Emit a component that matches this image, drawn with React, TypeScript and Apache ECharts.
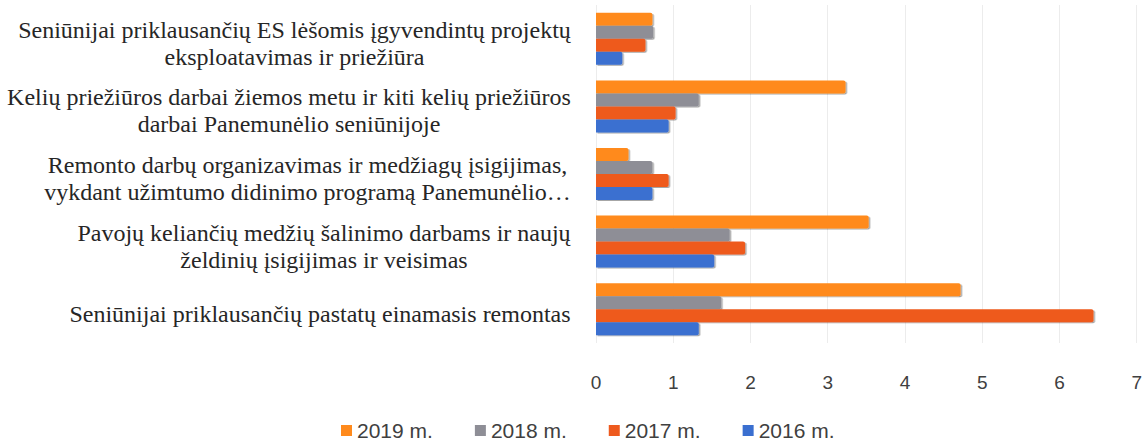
import React, { useEffect, useRef } from "react";
import * as echarts from "echarts";

const categoryLines: string[][] = [
  ["Seniūnijai priklausančių ES lėšomis įgyvendintų projektų", "eksploatavimas ir priežiūra"],
  ["Kelių priežiūros darbai žiemos metu ir kiti kelių priežiūros", "darbai Panemunėlio seniūnijoje"],
  ["Remonto darbų organizavimas ir medžiagų įsigijimas,", "vykdant užimtumo didinimo programą Panemunėlio…"],
  ["Pavojų keliančių medžių šalinimo darbams ir naujų", "želdinių įsigijimas ir veisimas"],
  ["Seniūnijai priklausančių pastatų einamasis remontas"],
];
const categories = categoryLines.map((l) => l.join(" "));

const seriesNames = ["2019 m.", "2018 m.", "2017 m.", "2016 m."];
const values2019 = [0.73, 3.23, 0.42, 3.53, 4.72];
const values2018 = [0.74, 1.33, 0.73, 1.73, 1.62];
const values2017 = [0.64, 1.03, 0.94, 1.93, 6.44];
const values2016 = [0.34, 0.94, 0.73, 1.53, 1.33];
const seriesColors = ["#FF8A1C", "#8E8E96", "#EE5A1E", "#3A6FD0"];

const LABEL_FONT = "Liberation Serif";
const LABEL_SIZE = 24;

function measure(text: string): number {
  const c = document.createElement("canvas").getContext("2d");
  if (!c) return text.length * 11;
  c.font = `${LABEL_SIZE}px "${LABEL_FONT}"`;
  return c.measureText(text).width;
}

export default function App() {
  const ref = useRef<HTMLDivElement>(null);
  useEffect(() => {
    if (!ref.current) return;
    const chart = echarts.init(ref.current, undefined, { renderer: "svg" });
    const rich: Record<string, any> = {};
    categoryLines.forEach((lines, i) => {
      const w = Math.ceil(Math.max(...lines.map(measure))) + 2;
      rich["c" + i] = {
        width: w,
        align: "center",
        fontSize: LABEL_SIZE,
        lineHeight: 27,
        fontFamily: LABEL_FONT,
        color: "#262626",
      };
    });
    const allValues = [values2019, values2018, values2017, values2016];
    chart.setOption({
      animation: false,
      backgroundColor: "#ffffff",
      grid: { left: 596, right: 5, top: 5, bottom: 103, containLabel: false },
      legend: {
        data: seriesNames,
        bottom: 0,
        left: 336,
        itemWidth: 11,
        itemHeight: 11,
        itemGap: 42,
        icon: "rect",
        textStyle: { fontSize: 21, fontFamily: "Liberation Sans", color: "#404040" },
      },
      xAxis: {
        type: "value",
        min: 0,
        max: 7,
        interval: 1,
        axisLine: { show: false },
        axisTick: { show: false },
        splitLine: { show: true, lineStyle: { color: "#ececec", width: 1 } },
        axisLabel: {
          margin: 30,
          fontSize: 19,
          fontFamily: "Liberation Sans",
          color: "#404040",
        },
      },
      yAxis: {
        type: "category",
        data: categories,
        inverse: true,
        axisLine: { show: false },
        axisTick: { show: false },
        axisLabel: {
          interval: 0,
          margin: 24,
          align: "right",
          verticalAlign: "middle",
          padding: [9, 0, 0, 0],
          formatter: (value: string) => {
            const i = categories.indexOf(value);
            return categoryLines[i].map((l) => `{c${i}|${l}}`).join("\n");
          },
          rich,
        },
      },
      series: seriesNames.map((name, k) => ({
        name,
        type: "bar",
        data: allValues[k],
        barWidth: 13,
        barGap: "0%",
        itemStyle: {
          color: seriesColors[k],
          borderRadius: [0, 2, 2, 0],
          shadowColor: "rgba(0,0,0,0.35)",
          shadowBlur: 1.5,
          shadowOffsetX: 1.5,
          shadowOffsetY: 1,
        },
      })),
    });
    return () => chart.dispose();
  }, []);
  return (
    <div
      ref={ref}
      style={{ position: "fixed", left: 0, top: 0, width: 1145, height: 446, background: "#fff" }}
    />
  );
}
